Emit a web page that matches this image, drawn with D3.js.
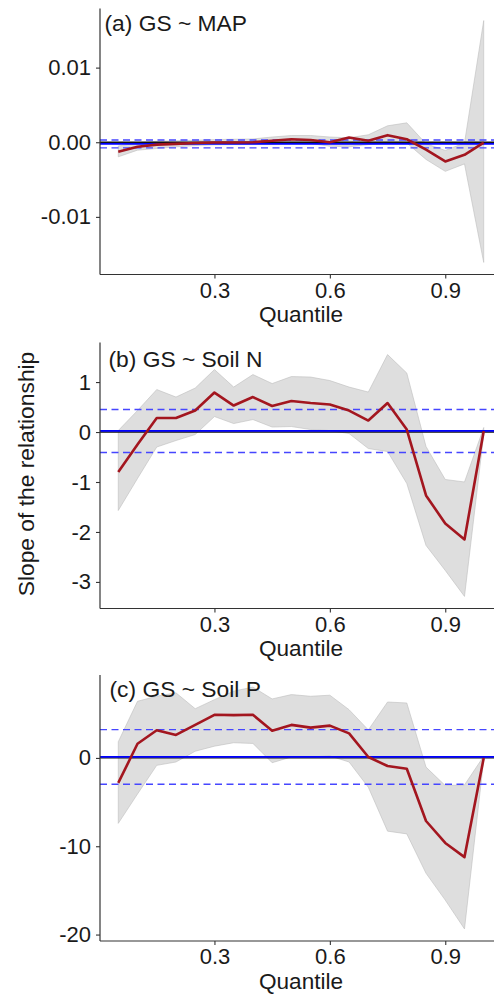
<!DOCTYPE html>
<html>
<head>
<meta charset="utf-8">
<script src="https://cdn.jsdelivr.net/npm/d3@7"></script>
<style>
  body { margin: 0; background: #fff; }
  text { font-family: "Liberation Sans", Arial, sans-serif; fill: #1a1a1a; }
</style>
</head>
<body>
<div id="chart"></div>
<script>
// Quantile regression slopes with confidence band, three stacked panels
const quantiles = [0.05, 0.10, 0.15, 0.20, 0.25, 0.30, 0.35, 0.40, 0.45, 0.50,
                   0.55, 0.60, 0.65, 0.70, 0.75, 0.80, 0.85, 0.90, 0.95, 1.00];

// (a) GS ~ MAP
const mapSlope = [-0.00127, -0.0006, -0.00032, -0.00022, -0.0001, -0.00004, -0.00004, 0.0, 0.0002, 0.0004,
                  0.0003, 0.0, 0.00064, 0.0002, 0.00095, 0.0004, -0.001, -0.00257, -0.00168, -0.00004];
const mapUpper = [-0.0005, -0.0001, 0.00013, 0.0002, 0.00027, 0.00035, 0.0004, 0.00044, 0.0007, 0.0009,
                  0.0009, 0.0007, 0.0006, 0.001, 0.0022, 0.0026, -0.0002, -0.0011, -0.0001, 0.0163];
const mapLower = [-0.00195, -0.00106, -0.00084, -0.00062, -0.00044, -0.00035, -0.00031, -0.00031, -0.00031, -0.00018,
                  -0.00018, -0.00053, -0.00062, -0.00031, -0.00018, -0.0001, -0.0023, -0.0039, -0.0029, -0.0161];
const mapOls = -0.00023;
const mapCi = [-0.00076, 0.0003];
const mapTicks = [-0.01, 0, 0.01];
const mapTickLabels = ["-0.01", "0.00", "0.01"];

// (b) GS ~ Soil N
const soilNSlope = [-0.80, -0.25, 0.28, 0.28, 0.43, 0.79, 0.53, 0.70, 0.52, 0.62,
                    0.58, 0.55, 0.43, 0.23, 0.58, 0.05, -1.27, -1.83, -2.15, 0.02];
const soilNUpper = [0.03, 0.43, 0.85, 0.70, 0.88, 1.25, 0.90, 1.15, 0.97, 1.11,
                    1.10, 1.03, 0.90, 0.80, 1.55, 1.18, -0.29, -0.95, -1.00, 0.09];
const soilNLower = [-1.57, -0.93, -0.30, -0.17, -0.05, 0.31, 0.17, 0.25, 0.10, 0.11,
                    0.05, 0.03, -0.03, -0.33, -0.39, -1.03, -2.27, -2.77, -3.29, -0.05];
const soilNOls = 0.025;
const soilNCi = [-0.41, 0.45];
const soilNTicks = [-3, -2, -1, 0, 1];
const soilNTickLabels = ["-3", "-2", "-1", "0", "1"];

// (c) GS ~ Soil P
const soilPSlope = [-2.83, 1.6, 3.13, 2.6, 3.74, 4.88, 4.85, 4.88, 3.09, 3.74,
                    3.43, 3.66, 2.78, 0.11, -0.92, -1.23, -7.14, -9.63, -11.23, 0.0];
const soilPUpper = [1.83, 6.41, 6.99, 7.37, 5.57, 6.6, 7.56, 8.02, 6.68, 7.17,
                    6.98, 7.1, 5.46, 3.17, 6.33, 6.22, -1.04, -3.13, -3.06, 0.2];
const soilPLower = [-7.41, -4.09, -0.84, -0.46, 0.76, 1.33, 1.72, 1.64, -0.54, 0.11,
                    0.11, 0.23, -0.46, -3.32, -8.29, -8.6, -13.06, -16.1, -19.36, -0.2];
const soilPOls = 0.11;
const soilPCi = [-2.98, 3.2];
const soilPTicks = [-20, -10, 0];
const soilPTickLabels = ["-20", "-10", "0"];

const xTicks = [0.3, 0.6, 0.9];
const xTickLabels = ["0.3", "0.6", "0.9"];

const panelLabels = ["(a) GS ~ MAP", "(b) GS ~ Soil N", "(c) GS ~ Soil P"];
const xTitle = "Quantile";
const yTitle = "Slope of the relationship";

// ---- layout ----
const width = 494, height = 998;
const left = 100, right = 502;      // panel runs slightly past the image edge
const panelH = 266;
const panelTops = [8.5, 342.5, 675];
const labelPos = [[104.5, 22.3], [108.5, 24], [109.5, 21.8]];

const panels = [
  { slope: mapSlope, upper: mapUpper, lower: mapLower, ols: mapOls, ci: mapCi, ticks: mapTicks, tickLabels: mapTickLabels },
  { slope: soilNSlope, upper: soilNUpper, lower: soilNLower, ols: soilNOls, ci: soilNCi, ticks: soilNTicks, tickLabels: soilNTickLabels },
  { slope: soilPSlope, upper: soilPUpper, lower: soilPLower, ols: soilPOls, ci: soilPCi, ticks: soilPTicks, tickLabels: soilPTickLabels }
];

const svg = d3.select("#chart").append("svg")
  .attr("width", width)
  .attr("height", height);

// x scale shared by all panels, ggplot-style 5% expansion
const xExt = d3.extent(quantiles);
const xPad = (xExt[1] - xExt[0]) * 0.05;
const x = d3.scaleLinear()
  .domain([xExt[0] - xPad, xExt[1] + xPad])
  .range([left, right]);

const axisColor = "#333";

panels.forEach((p, i) => {
  const top = panelTops[i];
  const bottom = top + panelH;
  const lo = Math.min(d3.min(p.lower), d3.min(p.slope));
  const hi = Math.max(d3.max(p.upper), d3.max(p.slope));
  const pad = (hi - lo) * 0.05;
  const y = d3.scaleLinear().domain([lo - pad, hi + pad]).range([bottom, top]);

  const g = svg.append("g");

  const rows = quantiles.map((q, j) => ({ q, s: p.slope[j], lo: p.lower[j], hi: p.upper[j] }));

  // confidence band
  g.append("path")
    .datum(rows)
    .attr("d", d3.area().x(d => x(d.q)).y0(d => y(d.lo)).y1(d => y(d.hi)))
    .attr("fill", "#dedede")
    .attr("stroke", "#bdbdbd")
    .attr("stroke-width", 0.6);

  // zero line
  g.append("line")
    .attr("x1", left).attr("x2", width)
    .attr("y1", y(0)).attr("y2", y(0))
    .attr("stroke", "#111").attr("stroke-width", 1.4);

  // OLS estimate and its confidence interval
  g.append("line")
    .attr("x1", left).attr("x2", width)
    .attr("y1", y(p.ols)).attr("y2", y(p.ols))
    .attr("stroke", "#0000ff").attr("stroke-width", 1.8);

  p.ci.forEach(v => {
    g.append("line")
      .attr("x1", left).attr("x2", width)
      .attr("y1", y(v)).attr("y2", y(v))
      .attr("stroke", "#4646ff").attr("stroke-width", 1.4)
      .attr("stroke-dasharray", "7,4.5");
  });

  // quantile slope line
  g.append("path")
    .datum(rows)
    .attr("d", d3.line().x(d => x(d.q)).y(d => y(d.s)))
    .attr("fill", "none")
    .attr("stroke", "#a3161f")
    .attr("stroke-width", 2.6)
    .attr("stroke-linejoin", "round");

  // y axis
  const yAxis = g.append("g")
    .attr("transform", `translate(${left},0)`)
    .call(d3.axisLeft(y).tickValues(p.ticks).tickSize(4).tickPadding(5)
      .tickFormat((d, k) => p.tickLabels[k]));
  yAxis.select(".domain").attr("d", `M0,${top}V${bottom}`).attr("stroke", axisColor).attr("stroke-width", 1.2);
  yAxis.selectAll(".tick line").attr("stroke", axisColor).attr("stroke-width", 1.1);
  yAxis.selectAll(".tick text").attr("font-size", 22).attr("fill", "#1a1a1a")
    .style("font-family", "'Liberation Sans', Arial, sans-serif");

  // x axis
  const xAxis = g.append("g")
    .attr("transform", `translate(0,${bottom})`)
    .call(d3.axisBottom(x).tickValues(xTicks).tickSize(4).tickPadding(5)
      .tickFormat((d, k) => xTickLabels[k]));
  xAxis.select(".domain").attr("d", `M${left},0H${right}`).attr("stroke", axisColor).attr("stroke-width", 1.2);
  xAxis.selectAll(".tick line").attr("stroke", axisColor).attr("stroke-width", 1.1);
  xAxis.selectAll(".tick text").attr("font-size", 22).attr("fill", "#1a1a1a")
    .attr("y", 23).attr("dy", 0)
    .style("font-family", "'Liberation Sans', Arial, sans-serif");

  // x title
  g.append("text")
    .attr("x", (left + right) / 2)
    .attr("y", bottom + 47.5)
    .attr("text-anchor", "middle")
    .attr("font-size", 22.6)
    .text(xTitle);

  // panel label
  g.append("text")
    .attr("x", labelPos[i][0])
    .attr("y", top + labelPos[i][1])
    .attr("font-size", 22.8)
    .text(panelLabels[i]);
});

// shared y title
svg.append("text")
  .attr("transform", "translate(33.5,474) rotate(-90)")
  .attr("text-anchor", "middle")
  .attr("font-size", 22.8)
  .text(yTitle);
</script>
</body>
</html>
